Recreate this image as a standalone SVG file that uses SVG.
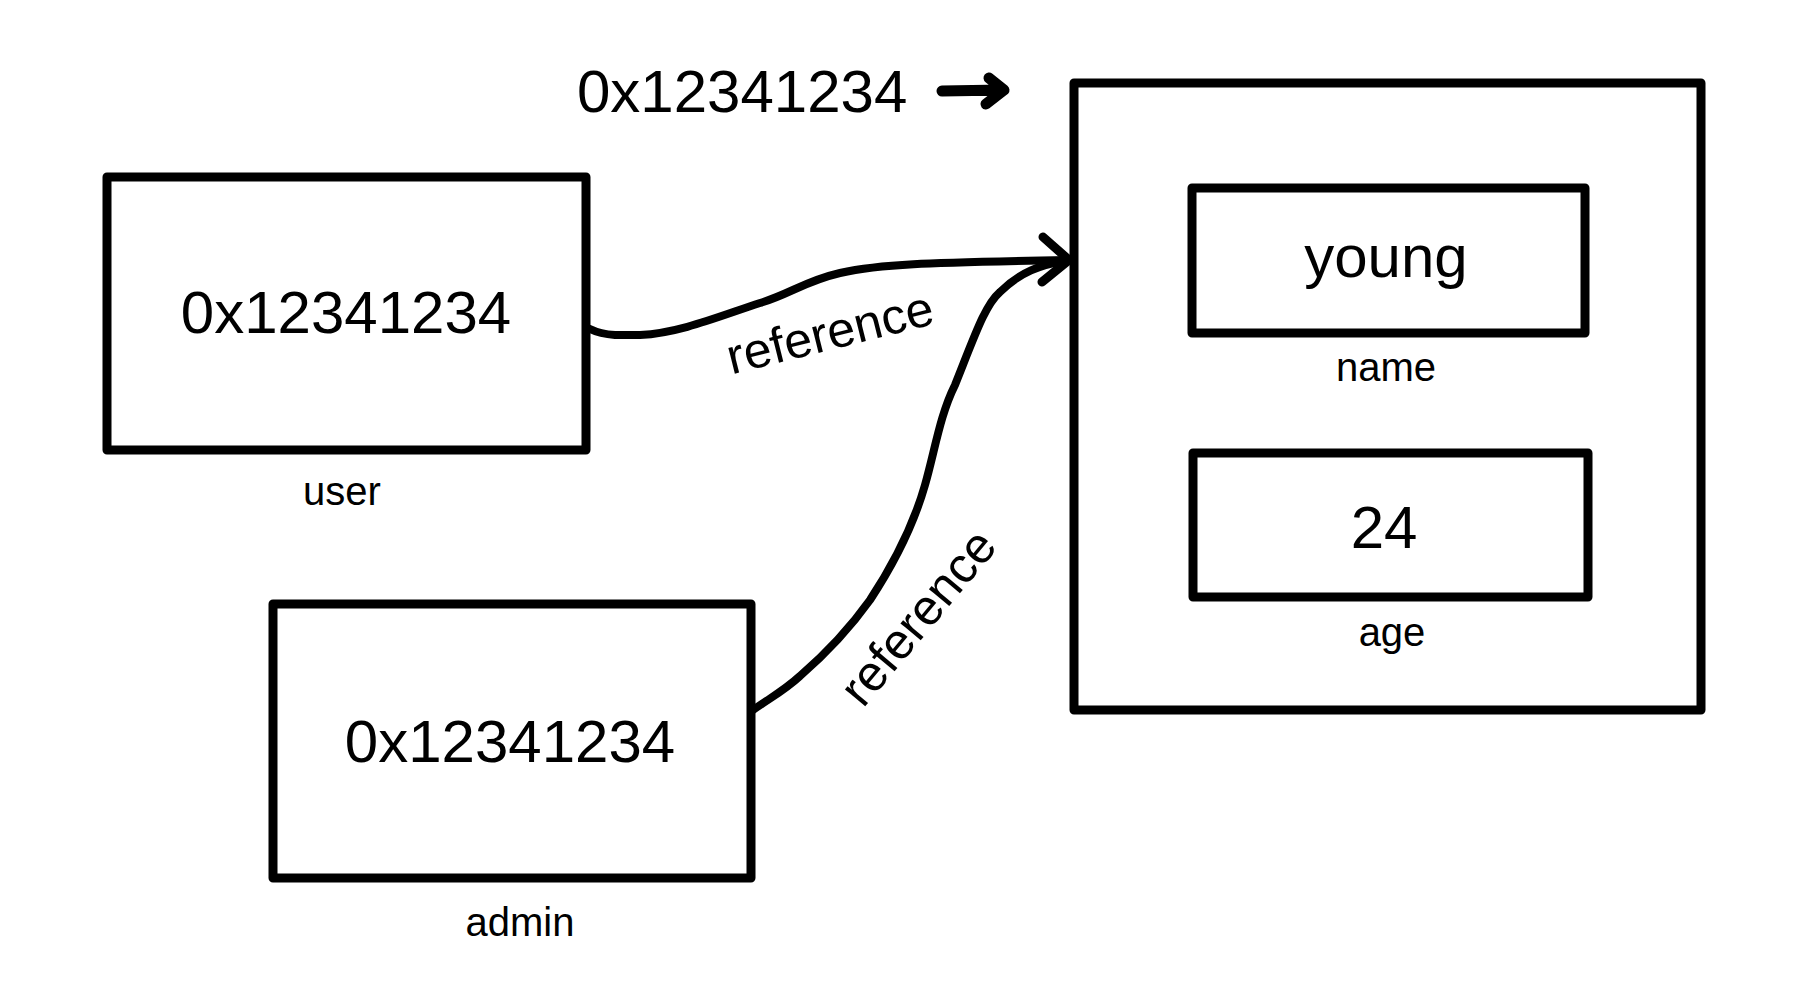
<svg xmlns="http://www.w3.org/2000/svg" width="1813" height="1000" viewBox="0 0 1813 1000">
<style>
  .box { fill: none; stroke: #000; stroke-width: 9; stroke-linejoin: round; }
  .wire { fill: none; stroke: #000; stroke-width: 8; stroke-linecap: round; stroke-linejoin: round; }
  .head { fill: none; stroke: #000; stroke-width: 9; stroke-linecap: round; stroke-linejoin: round; }
  .small { fill: none; stroke: #000; stroke-width: 11; stroke-linecap: round; stroke-linejoin: round; }
  text { font-family: "Liberation Sans", Arial, Helvetica, sans-serif; fill: #000; }
  .big { font-size: 60px; text-anchor: middle; }
  .lbl { font-size: 40px; text-anchor: middle; }
  .ref { font-size: 50px; text-anchor: middle; }
</style>
<rect width="1813" height="1000" fill="#fff"/>

<g id="address-caption">
  <text x="577" y="112" font-size="60">0x12341234</text>
  <path class="small" d="M942,91 L1003,90 M989,78 L1004,90 L986,104"/>
</g>

<g id="user">
  <rect class="box" x="107" y="177" width="479" height="273"/>
  <text class="big" x="346" y="333">0x12341234</text>
  <text class="lbl" x="342" y="505">user</text>
</g>

<g id="admin">
  <rect class="box" x="273" y="604" width="478" height="274"/>
  <text class="big" x="510" y="762">0x12341234</text>
  <text class="lbl" x="520" y="936">admin</text>
</g>

<g id="object">
  <rect class="box" x="1074" y="83" width="627" height="627"/>
</g>

<g id="name">
  <rect class="box" x="1192" y="188" width="393" height="145"/>
  <text class="big" x="1386" y="277">young</text>
  <text class="lbl" x="1386" y="381">name</text>
</g>

<g id="age">
  <rect class="box" x="1193" y="453" width="395" height="144"/>
  <text class="big" x="1384" y="548">24</text>
  <text class="lbl" x="1392" y="646">age</text>
</g>

<g id="connectors">
  <path class="wire" d="M590,329 Q600,334 615,335 L640,335 C680,333 720,316 760,303 C790,294 805,281 840,273 C880,264 920,263 1068,260"/>
  <path class="wire" d="M753,710 C770,698 785,690 800,676 C830,650 850,628 870,600 C895,562 915,520 925,485 C935,450 940,415 955,385 C975,335 985,305 1000,292 C1020,272 1040,265 1068,260"/>
  <path class="head" d="M1043,237 L1069,260 L1042,282"/>
  <text class="ref" transform="translate(834,349) rotate(-14)">reference</text>
  <text class="ref" transform="translate(931,628) rotate(-50)">reference</text>
</g>
</svg>
